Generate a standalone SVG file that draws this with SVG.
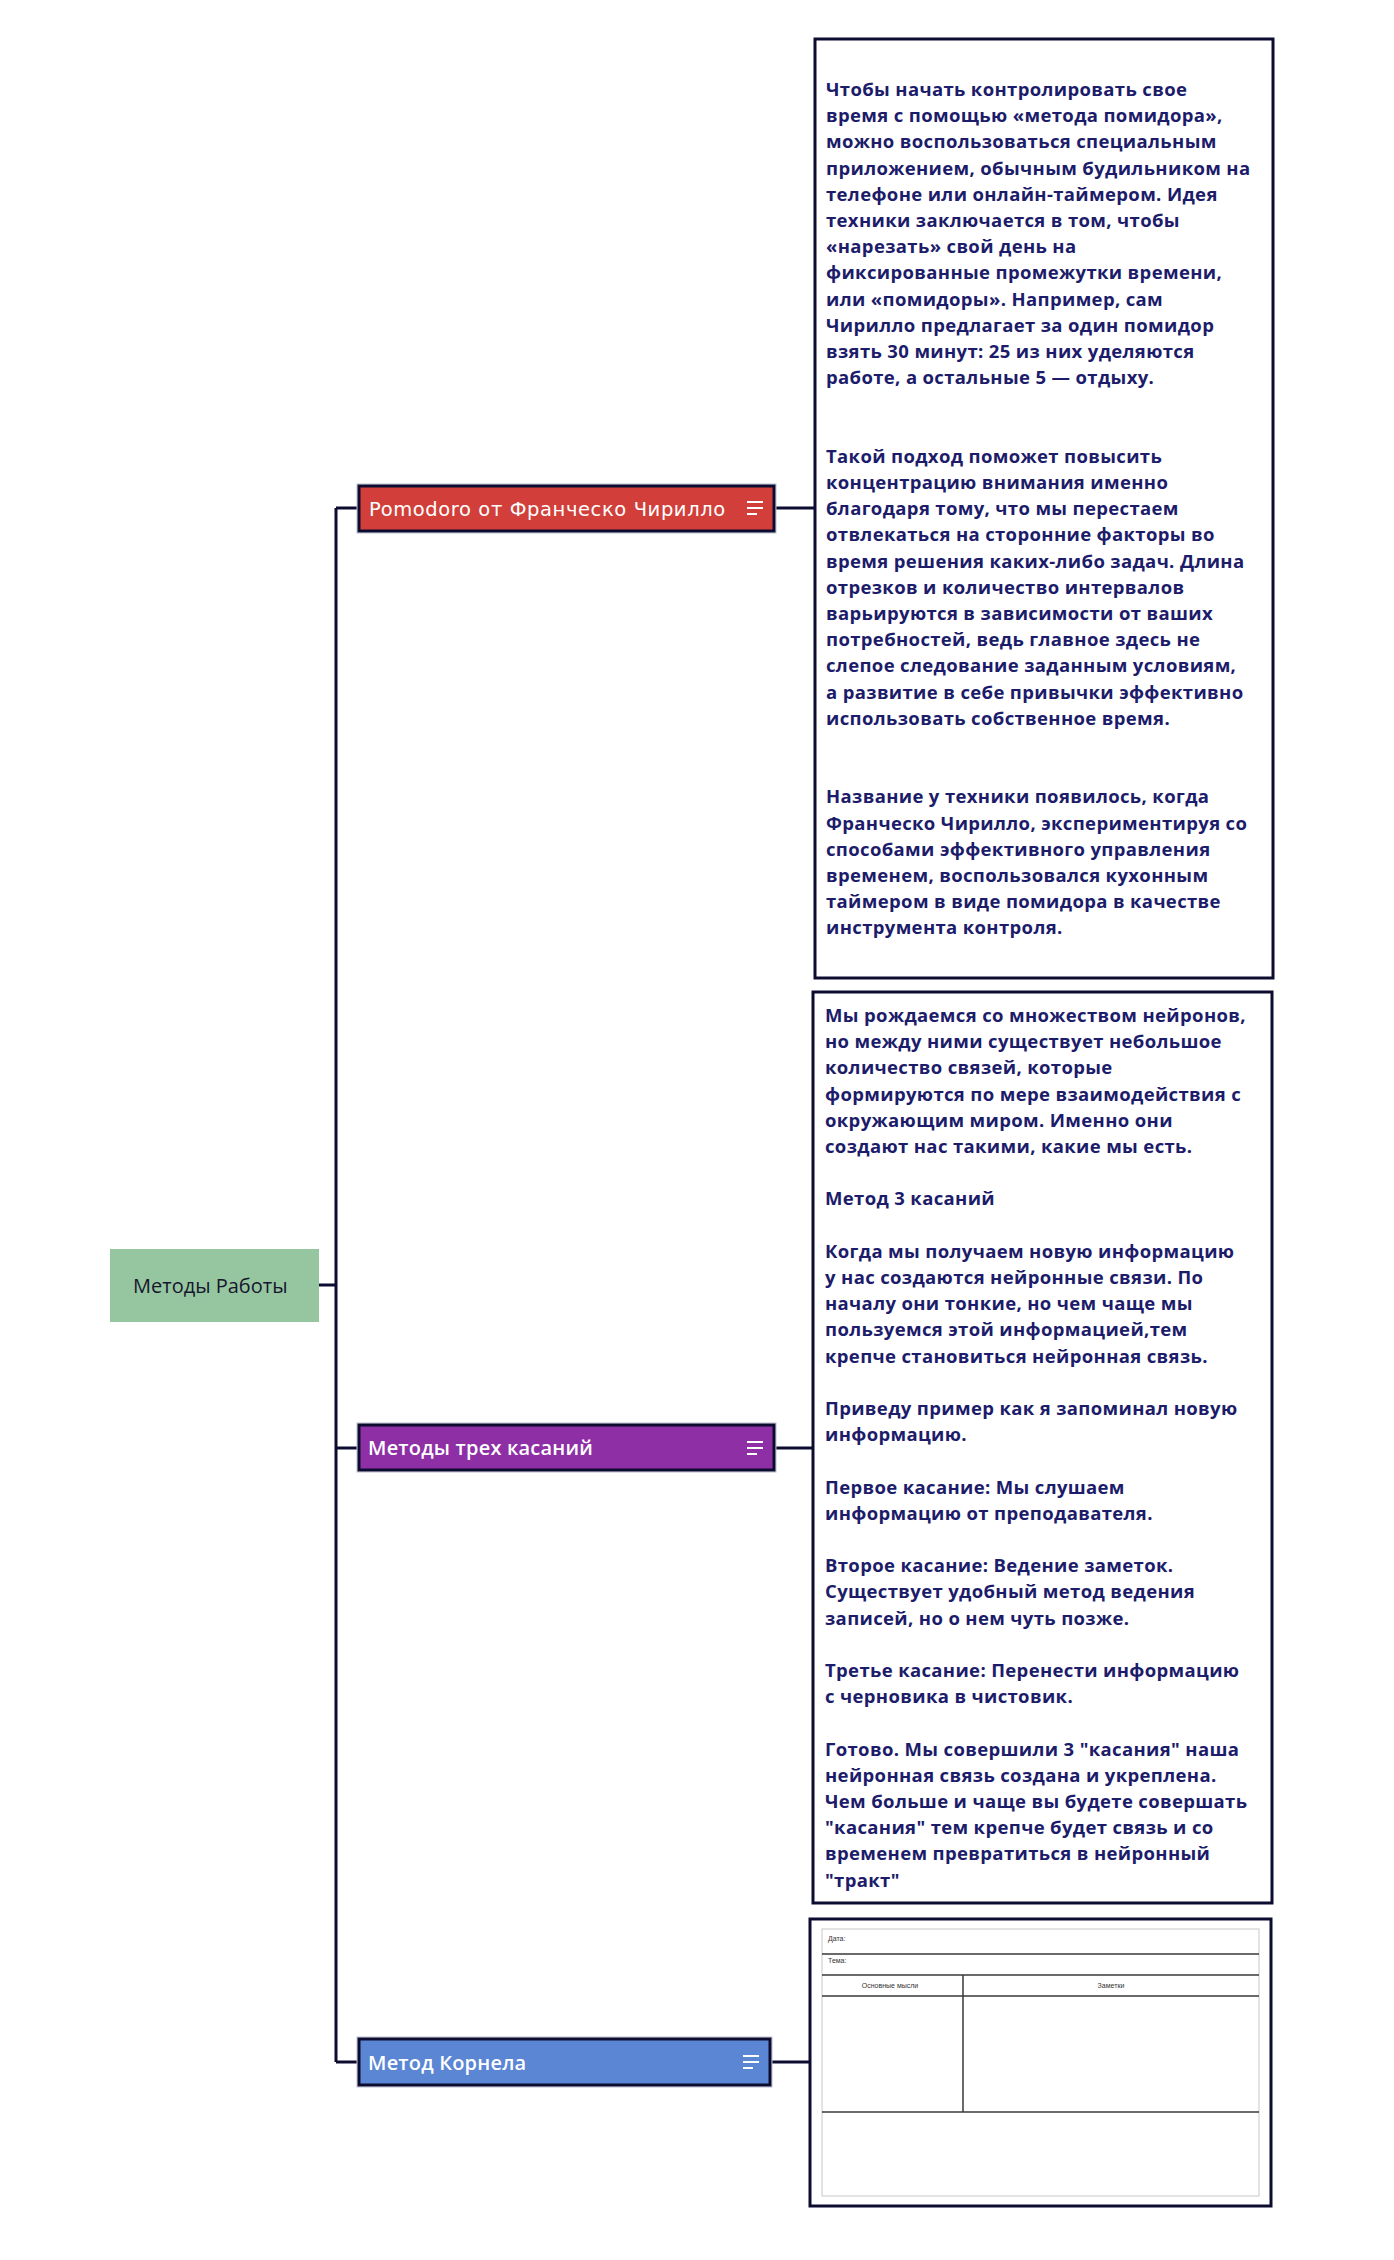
<svg xmlns="http://www.w3.org/2000/svg" width="1394" height="2260" viewBox="0 0 1394 2260">
<style>
.bg{fill:#ffffff}
.conn{stroke:#0c0c30;stroke-width:3;fill:none}
.topic{stroke:#0c0c30;stroke-width:3}
.halo{fill:none;stroke:#b9bdd0;stroke-width:1}
.lbl{font-family:"Open Sans","Liberation Sans",sans-serif;font-size:20px;font-weight:600;letter-spacing:0.2px;fill:#ffffff}
.pomo{font-family:"DejaVu Sans","Liberation Sans",sans-serif;font-size:19.5px;letter-spacing:0.6px;fill:#ffffff}
.icon{stroke:#ffffff;stroke-width:2}
.note{fill:#ffffff;stroke:#0c0c30;stroke-width:3}
.nt{font-family:"Open Sans","Liberation Sans",sans-serif;font-size:18.5px;font-weight:700;letter-spacing:0.35px;fill:#1c1c6a}
.root{font-family:"Open Sans","Liberation Sans",sans-serif;font-size:20px;fill:#16162e}
.tbl{stroke:#3a3a3a;stroke-width:1.5;fill:none}
.tt{font-family:"Liberation Sans","Open Sans",sans-serif;font-size:7px;fill:#333333}
</style>
<rect class="bg" x="0" y="0" width="1394" height="2260"/>

<g id="connectors">
  <path class="conn" d="M336 508 V2062"/>
  <path class="conn" d="M319 1285 H336"/>
  <path class="conn" d="M336 508 H357"/>
  <path class="conn" d="M336 1448 H357"/>
  <path class="conn" d="M336 2062 H357"/>
  <path class="conn" d="M776 508 H815"/>
  <path class="conn" d="M776 1448 H813"/>
  <path class="conn" d="M772 2062 H810"/>
</g>

<g id="root">
  <rect x="110" y="1249" width="209" height="73" fill="#96c69f"/>
  <text class="root" x="133" y="1293">Методы Работы</text>
</g>

<g id="node-pomodoro">
  <rect class="halo" x="357" y="484" width="419" height="49"/>
  <rect class="topic" x="359" y="486" width="415" height="45" fill="#d23f3a"/>
  <text class="pomo" x="369" y="516">Pomodoro от Франческо Чирилло</text>
  <path class="icon" d="M747 502 H763 M747 508 H763 M747 514 H757"/>
</g>

<g id="node-three">
  <rect class="halo" x="357" y="1423" width="419" height="49"/>
  <rect class="topic" x="359" y="1425" width="415" height="45" fill="#8e2fa6"/>
  <text class="lbl" x="368" y="1455">Методы трех касаний</text>
  <path class="icon" d="M747 1442 H763 M747 1448 H763 M747 1454 H757"/>
</g>

<g id="node-cornell">
  <rect class="halo" x="357" y="2037" width="415" height="50"/>
  <rect class="topic" x="359" y="2039" width="411" height="46" fill="#5a86d4"/>
  <text class="lbl" x="368" y="2070">Метод Корнела</text>
  <path class="icon" d="M743 2056 H759 M743 2062 H759 M743 2068 H753"/>
</g>

<g id="note-pomodoro">
  <rect class="note" x="815" y="39" width="458" height="939"/>
  <text class="nt">
    <tspan x="826" y="96">Чтобы начать контролировать свое</tspan>
    <tspan x="826" y="122.2">время с помощью «метода помидора»,</tspan>
    <tspan x="826" y="148.4">можно воспользоваться специальным</tspan>
    <tspan x="826" y="174.6">приложением, обычным будильником на</tspan>
    <tspan x="826" y="200.8">телефоне или онлайн-таймером. Идея</tspan>
    <tspan x="826" y="227">техники заключается в том, чтобы</tspan>
    <tspan x="826" y="253.2">«нарезать» свой день на</tspan>
    <tspan x="826" y="279.4">фиксированные промежутки времени,</tspan>
    <tspan x="826" y="305.6">или «помидоры». Например, сам</tspan>
    <tspan x="826" y="331.8">Чирилло предлагает за один помидор</tspan>
    <tspan x="826" y="358">взять 30 минут: 25 из них уделяются</tspan>
    <tspan x="826" y="384.2">работе, а остальные 5 — отдыху.</tspan>
    <tspan x="826" y="462.8">Такой подход поможет повысить</tspan>
    <tspan x="826" y="489">концентрацию внимания именно</tspan>
    <tspan x="826" y="515.2">благодаря тому, что мы перестаем</tspan>
    <tspan x="826" y="541.4">отвлекаться на сторонние факторы во</tspan>
    <tspan x="826" y="567.6">время решения каких-либо задач. Длина</tspan>
    <tspan x="826" y="593.8">отрезков и количество интервалов</tspan>
    <tspan x="826" y="620">варьируются в зависимости от ваших</tspan>
    <tspan x="826" y="646.2">потребностей, ведь главное здесь не</tspan>
    <tspan x="826" y="672.4">слепое следование заданным условиям,</tspan>
    <tspan x="826" y="698.6">а развитие в себе привычки эффективно</tspan>
    <tspan x="826" y="724.8">использовать собственное время.</tspan>
    <tspan x="826" y="803.4">Название у техники появилось, когда</tspan>
    <tspan x="826" y="829.6">Франческо Чирилло, экспериментируя со</tspan>
    <tspan x="826" y="855.8">способами эффективного управления</tspan>
    <tspan x="826" y="882">временем, воспользовался кухонным</tspan>
    <tspan x="826" y="908.2">таймером в виде помидора в качестве</tspan>
    <tspan x="826" y="934.4">инструмента контроля.</tspan>
  </text>
</g>

<g id="note-three">
  <rect class="note" x="813" y="992" width="459" height="911"/>
  <text class="nt">
    <tspan x="825" y="1022">Мы рождаемся со множеством нейронов,</tspan>
    <tspan x="825" y="1048.2">но между ними существует небольшое</tspan>
    <tspan x="825" y="1074.4">количество связей, которые</tspan>
    <tspan x="825" y="1100.6">формируются по мере взаимодействия с</tspan>
    <tspan x="825" y="1126.8">окружающим миром. Именно они</tspan>
    <tspan x="825" y="1153">создают нас такими, какие мы есть.</tspan>
    <tspan x="825" y="1205.4">Метод 3 касаний</tspan>
    <tspan x="825" y="1257.8">Когда мы получаем новую информацию</tspan>
    <tspan x="825" y="1284">у нас создаются нейронные связи. По</tspan>
    <tspan x="825" y="1310.2">началу они тонкие, но чем чаще мы</tspan>
    <tspan x="825" y="1336.4">пользуемся этой информацией,тем</tspan>
    <tspan x="825" y="1362.6">крепче становиться нейронная связь.</tspan>
    <tspan x="825" y="1415">Приведу пример как я запоминал новую</tspan>
    <tspan x="825" y="1441.2">информацию.</tspan>
    <tspan x="825" y="1493.6">Первое касание: Мы слушаем</tspan>
    <tspan x="825" y="1519.8">информацию от преподавателя.</tspan>
    <tspan x="825" y="1572.2">Второе касание: Ведение заметок.</tspan>
    <tspan x="825" y="1598.4">Существует удобный метод ведения</tspan>
    <tspan x="825" y="1624.6">записей, но о нем чуть позже.</tspan>
    <tspan x="825" y="1677">Третье касание: Перенести информацию</tspan>
    <tspan x="825" y="1703.2">с черновика в чистовик.</tspan>
    <tspan x="825" y="1755.6">Готово. Мы совершили 3 "касания" наша</tspan>
    <tspan x="825" y="1781.8">нейронная связь создана и укреплена.</tspan>
    <tspan x="825" y="1808">Чем больше и чаще вы будете совершать</tspan>
    <tspan x="825" y="1834.2">"касания" тем крепче будет связь и со</tspan>
    <tspan x="825" y="1860.4">временем превратиться в нейронный</tspan>
    <tspan x="825" y="1886.6">"тракт"</tspan>
  </text>
</g>

<g id="note-cornell">
  <rect class="note" x="810" y="1919" width="461" height="287"/>
  <rect x="822" y="1929" width="437" height="267" fill="none" stroke="#c8c8c8" stroke-width="1"/>
  <path class="tbl" d="M822 1954 H1259 M822 1975 H1259 M822 1996 H1259 M822 2112 H1259 M963 1975 V2112"/>
  <text class="tt" x="828" y="1941">Дата:</text>
  <text class="tt" x="828" y="1963">Тема:</text>
  <text class="tt" x="890" y="1988" text-anchor="middle">Основные мысли</text>
  <text class="tt" x="1111" y="1988" text-anchor="middle">Заметки</text>
</g>
</svg>
